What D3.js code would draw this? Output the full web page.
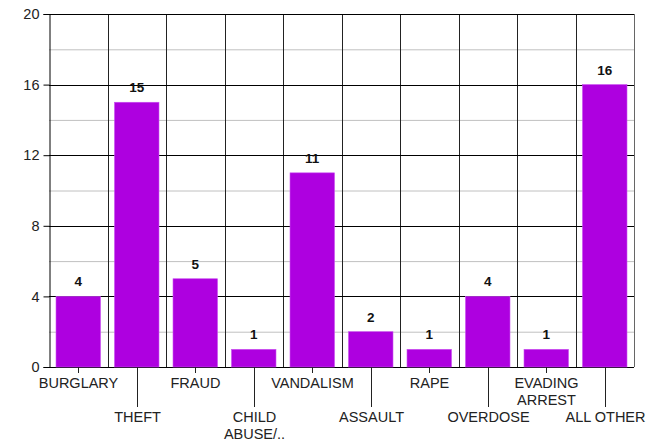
<!DOCTYPE html>
<html><head><meta charset="utf-8">
<script src="https://cdn.jsdelivr.net/npm/d3@7"></script>
<style>body{margin:0;background:#fff;} svg{display:block;}</style>
</head><body>
<svg id="c" width="662" height="445"></svg>
<script>
const categories = ["BURGLARY","THEFT","FRAUD","CHILD\nABUSE/..","VANDALISM","ASSAULT","RAPE","OVERDOSE","EVADING\nARREST","ALL OTHER"];
const values = [4,15,5,1,11,2,1,4,1,16];
const yTicks = [0,4,8,12,16,20];
const yMinor = [2,6,10,14,18];

const svg = d3.select("#c");
const L = 49, R = 634, T = 14, B = 367;
const x = d3.scaleBand().domain(categories).range([L, R]).paddingInner(0.24).paddingOuter(0.12);
const xb = d3.scaleBand().domain(categories).range([L, R]);
const y = d3.scaleLinear().domain([0, 20]).range([B, T]);
const font = "'Liberation Sans', Arial, sans-serif";

// minor grid
svg.append("g").selectAll("line").data(yMinor).join("line")
  .attr("x1", L).attr("x2", R).attr("y1", d => y(d) + 0.5).attr("y2", d => y(d) + 0.5)
  .attr("stroke", "#c0c0c0").attr("stroke-width", 1);

// vertical separators
svg.append("g").selectAll("line").data(categories.slice(1)).join("line")
  .attr("x1", d => Math.round(xb(d)) + 0.5).attr("x2", d => Math.round(xb(d)) + 0.5)
  .attr("y1", T).attr("y2", B)
  .attr("stroke", "#222").attr("stroke-width", 1);

// major grid
svg.append("g").selectAll("line").data(yTicks).join("line")
  .attr("x1", L).attr("x2", R).attr("y1", d => Math.round(y(d)) + 0.5).attr("y2", d => Math.round(y(d)) + 0.5)
  .attr("stroke", "#000").attr("stroke-width", 1);

// right border
svg.append("line").attr("x1", R + 0.5).attr("x2", R + 0.5).attr("y1", T).attr("y2", B)
  .attr("stroke", "#666");

// bars
svg.append("g").selectAll("rect").data(values).join("rect")
  .attr("x", (d, i) => x(categories[i]))
  .attr("width", x.bandwidth())
  .attr("y", d => y(d))
  .attr("height", d => B - y(d))
  .attr("fill", "#ae00e0")
  .attr("stroke", "#c94cf0").attr("stroke-width", 0.6);

// value labels
svg.append("g").selectAll("text").data(values).join("text")
  .attr("x", (d, i) => x(categories[i]) + x.bandwidth() / 2)
  .attr("y", d => y(d) - 10)
  .attr("text-anchor", "middle")
  .attr("font-family", font).attr("font-size", 13.5).attr("font-weight", "bold")
  .attr("fill", "#111")
  .text(d => d);

// y axis
const yAxis = d3.axisLeft(y).tickValues(yTicks).tickSize(6).tickPadding(4);
const ga = svg.append("g").attr("transform", `translate(${L + 0.5},0)`).call(yAxis);
ga.select(".domain").attr("stroke", "#000");
ga.selectAll(".tick line").attr("stroke", "#000");
ga.selectAll("text").attr("font-family", font).attr("font-size", 14.5).attr("fill", "#222");

// x axis ticks & labels
const gx = svg.append("g");
categories.forEach((c, i) => {
  const cx = Math.round(x(c) + x.bandwidth() / 2) + 0.5;
  const low = i % 2 === 1;
  gx.append("line").attr("x1", cx).attr("x2", cx).attr("y1", B).attr("y2", low ? 407 : 373)
    .attr("stroke", "#222");
  const lines = c.split("\n");
  const base = low ? 422 : 388;
  const t = gx.append("text").attr("text-anchor", "middle")
    .attr("font-family", font).attr("font-size", 14.5).attr("fill", "#222");
  lines.forEach((ln, j) => {
    t.append("tspan").attr("x", cx).attr("y", base + j * 17).text(ln);
  });
});
</script>
</body></html>
